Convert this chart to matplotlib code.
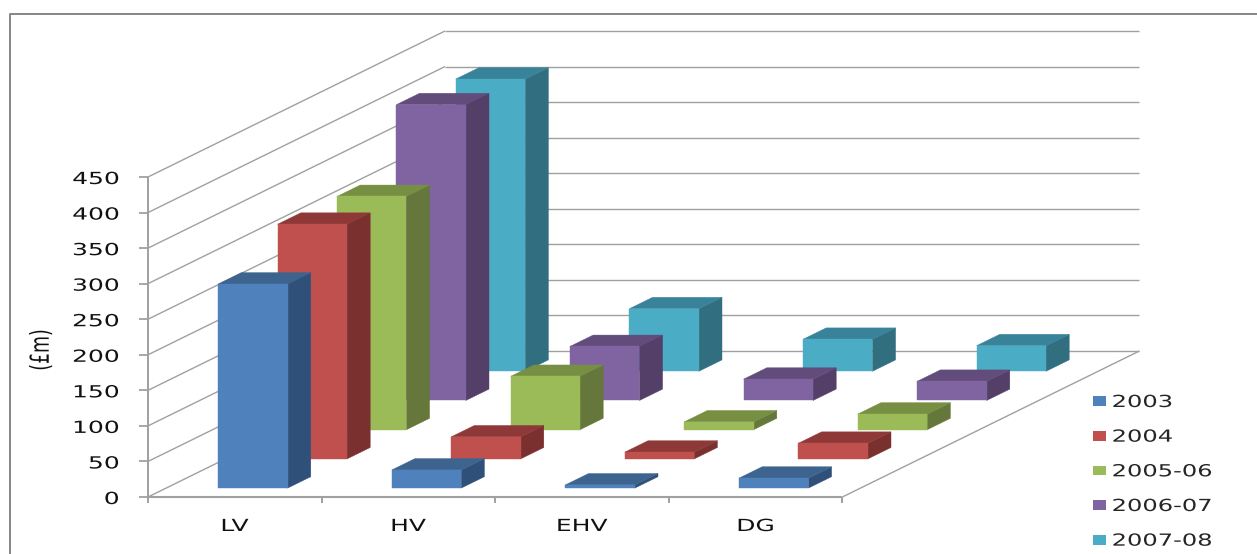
import matplotlib
matplotlib.use('Agg')
import matplotlib.pyplot as plt
from matplotlib.patches import Patch
from matplotlib.patheffects import AbstractPathEffect
from matplotlib.transforms import Affine2D

categories = ['LV', 'HV', 'EHV', 'DG']
series_names = ['2003', '2004', '2005-06', '2006-07', '2007-08']
y_ticks = [0, 50, 100, 150, 200, 250, 300, 350, 400, 450]

v_2003 = [287, 25.5, 4.5, 14]
v_2004 = [330, 31, 9.5, 22]
v_2005 = [328, 75, 11, 22]
v_2006 = [416, 76, 30, 27]
v_2007 = [411, 88, 45, 36]
values = [v_2003, v_2004, v_2005, v_2006, v_2007]

# front, top, side shade of each series
front_cols = ['#4F81BD', '#C0504D', '#9BBB59', '#8064A2', '#4BACC6']
top_cols = ['#3D648F', '#8E3937', '#778F43', '#624C7C', '#38829A']
side_cols = ['#2F5079', '#7A302F', '#65773A', '#533F68', '#306E80']

# excel style oblique view, in pixels of the figure
ORIG_X, ORIG_Y = 148, 497
CAT_W = 173.6
ROW_DX, ROW_DY = 59.4, -29.2
Z_SCALE = 320 / 450
BAR_W = 0.40
BAR_D = 0.39


def project(c, r, z):
    return ORIG_X + CAT_W * c + ROW_DX * r, ORIG_Y + ROW_DY * r - Z_SCALE * z


class Stretch(AbstractPathEffect):
    # the original picture is stretched sideways, text too
    def __init__(self, sx, anchor=0.5):
        super().__init__()
        self.sx = sx
        self.anchor = anchor

    def draw_path(self, renderer, gc, tpath, affine, rgbFace=None):
        ext = tpath.transformed(affine).get_extents()
        x0 = ext.x0 + self.anchor * ext.width
        t = affine + Affine2D().translate(-x0, 0).scale(self.sx, 1).translate(x0, 0)
        renderer.draw_path(gc, tpath, t, rgbFace)


def line(p0, p1, col='#A0A0A0', lw=1.0):
    ax.plot([p0[0], p1[0]], [p0[1], p1[1]], color=col, lw=lw, zorder=1,
            solid_capstyle='butt')


def poly(pts, col):
    xs = [p[0] for p in pts]
    ys = [p[1] for p in pts]
    ax.fill(xs, ys, facecolor=col, edgecolor=col, lw=0.3, zorder=3)


fig = plt.figure(figsize=(12.57, 5.54), dpi=100)
ax = fig.add_axes([0, 0, 1, 1])
ax.set_xlim(0, 1257)
ax.set_ylim(554, 0)
ax.axis('off')

# outer frame, only top and left survive in the crop
ax.plot([10, 10, 1257], [554, 14, 14], color='#868686', lw=1.4, zorder=1)

n_cat = len(categories)
n_row = len(series_names)

# walls
for z in y_ticks:
    line(project(0, 0, z), project(0, n_row, z))
    line(project(0, n_row, z), project(n_cat, n_row, z))
    x, y = project(0, 0, z)
    line((x - 9, y), (x, y), lw=1.3)
    ax.text(x - 29, y + 2, str(z), ha='right', va='center', fontsize=12,
            color='#111111', path_effects=[Stretch(1.5, 1)])

line(project(0, 0, 0), project(0, 0, y_ticks[-1]), lw=1.4)
line(project(0, 0, 0), project(n_cat, 0, 0), lw=1.5)
line(project(n_cat, 0, 0), project(n_cat, n_row, 0))

for c in range(n_cat + 1):
    x, y = project(c, 0, 0)
    line((x, y), (x, y + 6), lw=1.4)

for c, name in enumerate(categories):
    x, y = project(c + 0.5, 0, 0)
    ax.text(x, y + 29, name, ha='center', va='center', fontsize=12,
            color='#111111', path_effects=[Stretch(1.5)])

ax.text(41, 350, '(£m)', rotation=90, ha='center', va='center', fontsize=12.5,
        color='#111111', path_effects=[Stretch(1.5)])

# bars, back row first
for r in reversed(range(n_row)):
    for c in reversed(range(n_cat)):
        v = values[r][c]
        c0 = c + 0.5 - BAR_W / 2
        c1 = c + 0.5 + BAR_W / 2
        r0 = r + 0.5 - BAR_D / 2
        r1 = r + 0.5 + BAR_D / 2
        poly([project(c1, r0, 0), project(c1, r1, 0), project(c1, r1, v), project(c1, r0, v)], side_cols[r])
        poly([project(c0, r0, v), project(c1, r0, v), project(c1, r1, v), project(c0, r1, v)], top_cols[r])
        poly([project(c0, r0, 0), project(c1, r0, 0), project(c1, r0, v), project(c0, r0, v)], front_cols[r])

handles = [Patch(facecolor=col, edgecolor='none') for col in front_cols]
leg = ax.legend(handles, series_names, loc='upper left', bbox_to_anchor=(1092.5, 393),
                bbox_transform=ax.transData, frameon=False, fontsize=12,
                handlelength=0.8, handleheight=0.5, handletextpad=0.38,
                labelspacing=1.0, borderpad=0, borderaxespad=0)
for t in leg.get_texts():
    t.set_color('#262626')
    t.set_path_effects([Stretch(1.45, 0)])

fig.savefig('out.png', dpi=100)
